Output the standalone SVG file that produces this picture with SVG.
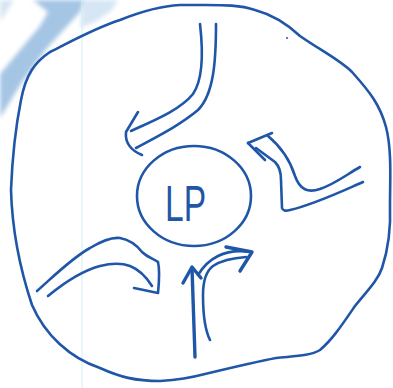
<svg xmlns="http://www.w3.org/2000/svg" width="393" height="388" viewBox="0 0 393 388">
<defs>
<style>
.ink{fill:none;stroke:#1f56a8;stroke-width:2.6;stroke-linecap:round;stroke-linejoin:round}
.bold{stroke-width:3.4}
.lbl{font-family:"Liberation Sans",Arial,sans-serif;font-size:56px;fill:#1f56a8}
</style>
<filter id="blur" x="-20%" y="-20%" width="140%" height="140%"><feGaussianBlur stdDeviation="2"/></filter>
</defs>
<rect width="393" height="388" fill="#ffffff"/>
<g id="background" filter="url(#blur)">
<polygon points="33,0 84,0 80,12 47,48 22,82 0,118 0,74 20,50 40,26 48,12" fill="#95bbdf" opacity="0.85"/>
<polygon points="0,0 14,0 0,22" fill="#c6dcef" opacity="0.7"/>
<polygon points="84,0 118,0 112,10 95,22 80,28" fill="#cfe2f2" opacity="0.85"/>
</g>
<line x1="82" y1="0" x2="82" y2="388" stroke="#cfeef6" stroke-width="1"/>
<g id="boundary">
<path class="ink" d="M180,5 C160,6 140,12 120,20 C95,28 70,42 50,52 C35,62 26,74 21,100 C15,130 12,165 11,190 C12,225 17,260 32,305 C45,335 70,358 100,368 C120,377 135,381 160,381 C175,380 190,378 205,374 C230,368 255,362 276,358 C295,356 310,356 320,350 C332,340 342,325 355,306 C368,290 378,280 382,268 C388,250 391,230 390,205 C390,180 392,150 386,127 C380,105 370,92 352,72 C340,60 320,50 300,36 C285,22 270,14 255,10 C240,5 225,5 205,5 Z"/>
<circle cx="287" cy="38" r="1" fill="#1f56a8"/>
</g>
<g id="node-lp">
<ellipse class="ink" cx="194" cy="196" rx="57" ry="50"/>
<text class="lbl" x="0" y="0" transform="translate(165,221) scale(0.6,0.88)">LP</text>
</g>
<g id="connectors">
<g id="arrow-top">
<path class="ink" d="M200,24 C203,50 204,78 193,94 C180,110 155,120 131,131"/>
<path class="ink" d="M216,24 C216,60 214,94 198,110 C180,125 160,135 136,148"/>
<path class="ink" d="M138,112 L126,132 C125,142 130,150 142,155"/>
</g>
<g id="arrow-right">
<path class="ink" d="M248,143 L272,133"/>
<path class="ink" d="M248,143 L265,160"/>
<path class="ink" d="M256,148 L275,162 Q281,168 281,180 L282,208 Q283,212 290,210 C315,204 340,192 363,182"/>
<path class="ink" d="M268,136 C280,146 290,160 295,176 C300,190 308,193 320,189 C335,184 346,175 360,167"/>
</g>
<g id="arrow-left">
<path class="ink" d="M37,291 C55,275 72,258 90,248 C100,242 112,237 120,238 C130,240 136,244 142,252 C148,258 155,259 158,262 C160,270 159,283 158,293 L134,288"/>
<path class="ink" d="M48,296 C65,282 85,270 100,266 C112,263 122,263 130,266 C140,270 147,278 152,286"/>
</g>
<g id="arrow-bottom">
<path class="ink bold" d="M195,357 C194,330 193,300 192,268"/>
<path class="ink bold" d="M183,283 L192,267 L201,278"/>
<path class="ink" d="M210,340 C205,330 203,315 203,295 C203,282 205,272 213,266 C222,260 232,258 246,257"/>
<path class="ink" d="M198,275 C204,265 210,260 218,256 C228,251 238,250 251,252"/>
<path class="ink bold" d="M226,247 L252,252 L240,271"/>
</g>
</g>
</svg>
